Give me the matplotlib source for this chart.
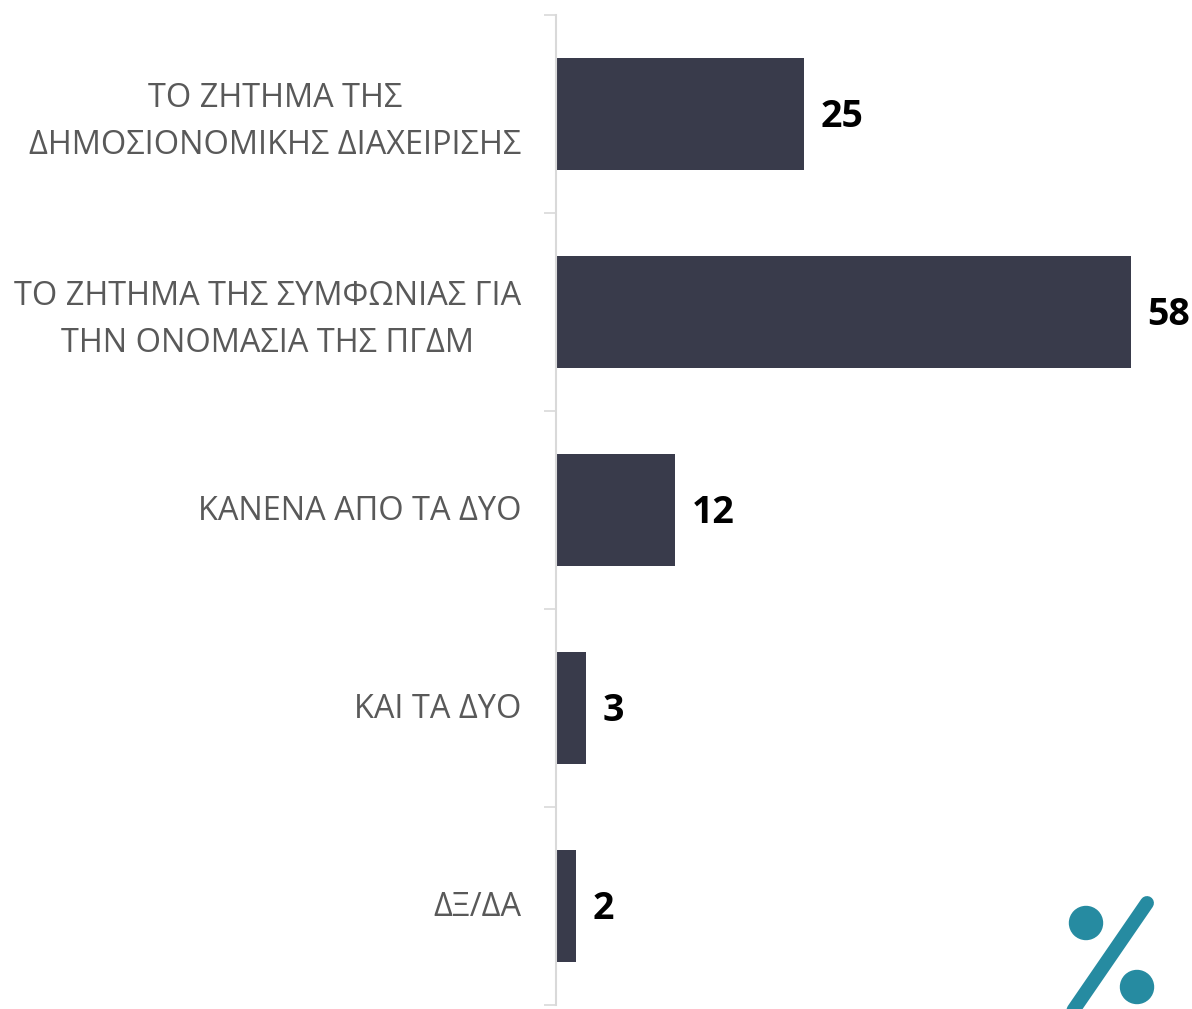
import matplotlib
matplotlib.use("Agg")

import numpy as np
import matplotlib.pyplot as plt
import matplotlib.transforms as mtransforms
from matplotlib.patches import Ellipse
from matplotlib.lines import Line2D

# ---------------------------
# DATA
# ---------------------------
categories = [
    "ΤΟ ΖΗΤΗΜΑ ΤΗΣ\nΔΗΜΟΣΙΟΝΟΜΙΚΗΣ ΔΙΑΧΕΙΡΙΣΗΣ",
    "ΤΟ ΖΗΤΗΜΑ ΤΗΣ ΣΥΜΦΩΝΙΑΣ ΓΙΑ\nΤΗΝ ΟΝΟΜΑΣΙΑ ΤΗΣ ΠΓΔΜ",
    "ΚΑΝΕΝΑ ΑΠΟ ΤΑ ΔΥΟ",
    "ΚΑΙ ΤΑ ΔΥΟ",
    "ΔΞ/ΔΑ",
]
values = [25, 58, 12, 3, 2]

BAR_COLOR = "#393B4B"
LABEL_COLOR = "#595959"
AXIS_COLOR = "#D9D9D9"
LOGO_COLOR = "#268BA1"

W, H = 1192, 1009

plt.rcParams["font.family"] = ["Open Sans", "DejaVu Sans"]

fig = plt.figure(figsize=(W / 100, H / 100), dpi=100)
ax = fig.add_axes([556 / W, 1 - 1005 / H, (1190 - 556) / W, (1005 - 15) / H])

y = np.arange(len(categories))
ax.barh(y, values, height=0.57, color=BAR_COLOR)

for yi, v in zip(y, values):
    ax.annotate(str(v), (v, yi), xytext=(12, -2), textcoords="offset points",
                ha="left", va="center", fontsize=27, fontweight="bold", color="black")

ax.set_xlim(0, 64)
ax.set_ylim(len(categories) - 0.5, -0.5)

# category labels at centres, tick marks at the boundaries
ax.set_yticks(y)
ax.set_yticklabels(categories, fontsize=23.4, color=LABEL_COLOR, linespacing=1.55,
                   ha="right", multialignment="center")
ax.tick_params(axis="y", which="major", length=0, pad=25)
shift = mtransforms.ScaledTranslation(0, 3 / 100, fig.dpi_scale_trans)
for lbl in ax.get_yticklabels():
    lbl.set_transform(lbl.get_transform() + shift)
ax.set_yticks(np.arange(-0.5, len(categories), 1), minor=True)
ax.tick_params(axis="y", which="minor", length=9, width=1.2, color=AXIS_COLOR)

ax.set_xticks([])
for s in ["top", "right", "bottom"]:
    ax.spines[s].set_visible(False)
ax.spines["left"].set_color(AXIS_COLOR)
ax.spines["left"].set_linewidth(1.5)

# % logo bottom right
def fx(px):
    return px / W

def fy(py):
    return 1 - py / H

fig.patches.append(Ellipse((fx(1086), fy(923)), 33 / W, 33 / H,
                           transform=fig.transFigure, color=LOGO_COLOR))
fig.patches.append(Ellipse((fx(1137), fy(987)), 33 / W, 33 / H,
                           transform=fig.transFigure, color=LOGO_COLOR))
fig.lines.append(Line2D([fx(1147), fx(1068)], [fy(903), fy(1018)],
                        transform=fig.transFigure, color=LOGO_COLOR,
                        linewidth=10, solid_capstyle="round"))

fig.savefig("out.png", dpi=100)
